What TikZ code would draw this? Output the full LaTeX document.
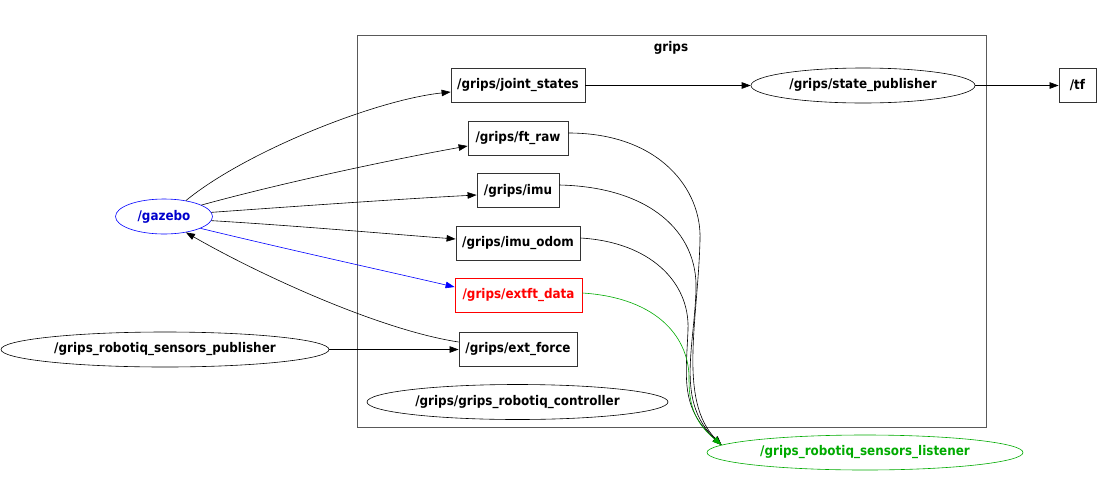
\documentclass[tikz,border=0pt]{standalone}
\usepackage{fontspec}
\setmainfont{DejaVu Sans Condensed}
\usetikzlibrary{arrows.meta,shapes.geometric}
\definecolor{gvblue}{RGB}{0,0,204}
\definecolor{gvgreen}{RGB}{0,170,0}

\begin{document}
\begin{tikzpicture}[x=1pt,y=-1pt,
    font=\bfseries\fontsize{13.3}{15}\selectfont,
    topic/.style={draw=black!80, rectangle, inner sep=0pt, minimum height=34pt, line width=0.8pt},
    rosnode/.style={draw=black, ellipse, inner sep=0pt, minimum height=35pt, line width=0.6pt},
    edge/.style={line width=0.6pt, -{Triangle[length=9pt,width=6.5pt]}}]
    \useasboundingbox (0,0) rectangle (1114,496);

    % Cluster
    \draw[black!65, line width=0.9pt] (357,35) rectangle (986,427);
    \node (grips) at (671,48) {grips};

    % Topics
    \node[topic, minimum width=134pt] (joint) at (518,85.5) {/grips/joint\_states};
    \node[topic, minimum width=100pt] (ftraw) at (518,138) {/grips/ft\_raw};
    \node[topic, minimum width=82pt] (imu) at (518,190.5) {/grips/imu};
    \node[topic, minimum width=124pt] (imuodom) at (518,243) {/grips/imu\_odom};
    \node[topic, draw=red, text=red, minimum width=127pt] (extft) at (518.5,295) {/grips/extft\_data};
    \node[topic, minimum width=118pt] (extforce) at (518,349.5) {/grips/ext\_force};
    \node[topic, minimum width=37pt] (tf) at (1077.5,85.5) {/tf};

    % Nodes
    \node[rosnode, minimum width=224pt] (statepub) at (863,85.5) {/grips/state\_publisher};
    \node[rosnode, draw=blue, text=gvblue, minimum width=97pt] (gazebo) at (164,216.5) {/gazebo};
    \node[rosnode, minimum width=328pt] (publisher) at (165,349.5) {/grips\_robotiq\_sensors\_publisher};
    \node[rosnode, minimum width=301pt] (controller) at (517.5,402) {/grips/grips\_robotiq\_controller};
    \node[rosnode, draw=gvgreen, text=gvgreen, minimum width=316pt] (listener) at (865,452.5) {/grips\_robotiq\_sensors\_listener};

    % Straight edges
    \draw[edge] (joint.east) -- (statepub.west);
    \draw[edge] (statepub.east) -- (tf.west);
    \draw[edge] (publisher.east) -- (extforce.west);

    % Edges out of gazebo
    \draw[edge] (gazebo.36) .. controls (245,152) and (375,100) .. (joint.west |- 0,92);
    \draw[edge] (gazebo.17) .. controls (285,182) and (400,158) .. (ftraw.west |- 0,146);
    \draw[edge] (gazebo.5) .. controls (300,206) and (400,199) .. (imu.west |- 0,195);
    \draw[edge] (gazebo.-5) .. controls (300,226) and (390,234) .. (imuodom.west |- 0,239);
    \draw[edge, blue] (gazebo.-18) .. controls (290,250) and (390,272) .. (extft.west |- 0,287);
    \draw[edge] (extforce.west |- 0,342) .. controls (380,330) and (260,275) .. (gazebo.-36);

    % Edges into the listener
    \draw[edge] (ftraw.east |- 0,133) .. controls (660,133) and (702,190) .. (700,240)
        .. controls (698,320) and (678,400) .. (listener.177);
    \draw[edge] (imu.east |- 0,185) .. controls (650,187) and (698,232) .. (696,290)
        .. controls (694,350) and (676,402) .. (listener.177);
    \draw[edge] (imuodom.east |- 0,238) .. controls (650,242) and (690,282) .. (688,330)
        .. controls (686,378) and (680,408) .. (listener.177);
    \draw[edge, gvgreen] (extft.east |- 0,293) .. controls (660,298) and (690,340) .. (689,380)
        .. controls (689,410) and (698,425) .. (listener.177);

\end{tikzpicture}
\end{document}
